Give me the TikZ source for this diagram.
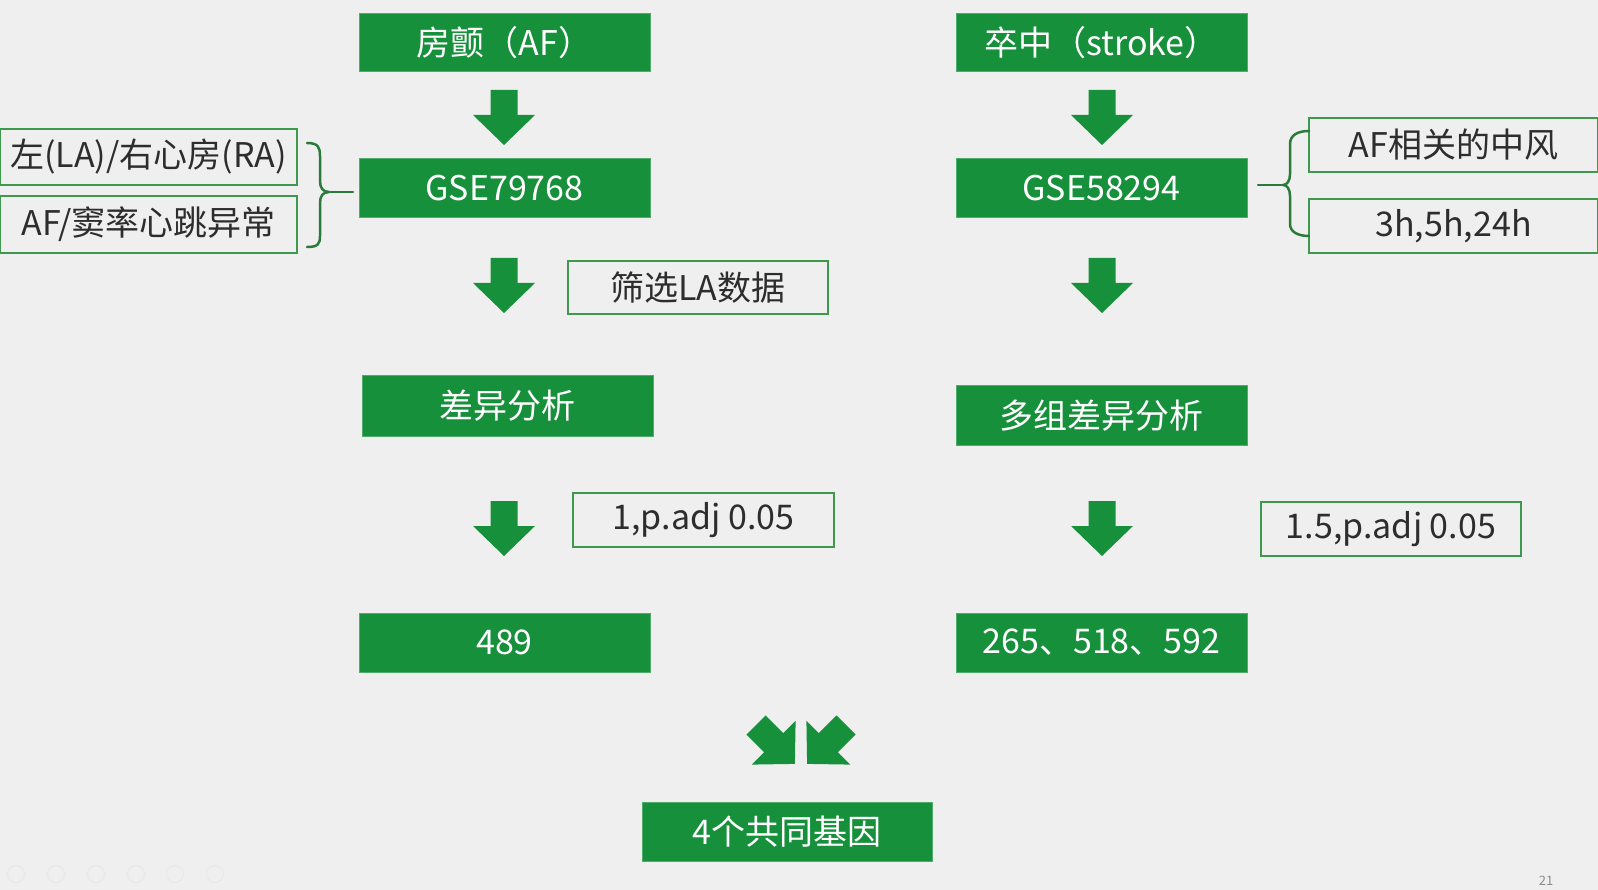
\documentclass[tikz,border=0pt]{standalone}
\usepackage{fontspec}
\setmainfont{Noto Sans CJK SC}
\usetikzlibrary{calc}
\definecolor{gfill}{RGB}{22,144,58}
\definecolor{bgc}{RGB}{239,239,239}
\definecolor{gline}{RGB}{62,152,78}
\definecolor{txt}{RGB}{45,45,45}
\definecolor{brc}{RGB}{44,122,58}
\newcommand{\blockarrowpath}{(-13.5,0) -- (13.5,0) -- (13.5,25) -- (31,25) -- (0,55) -- (-31,25) -- (-13.5,25) -- cycle}
\begin{document}
\begin{tikzpicture}[x=1pt,y=-1pt,
  gbox/.style={fill=gfill, draw=gfill!75!white, line width=1pt, text=white, minimum width=291pt, minimum height=58pt, inner sep=0pt, font=\fontsize{34}{38}\selectfont},
  obox/.style={draw=gline, line width=1.8pt, text=txt, minimum height=54pt, inner sep=0pt, font=\fontsize{34}{38}\selectfont},
  brace/.style={draw=brc, line width=2.5pt, line cap=round, line join=round},
  barrow/.style={fill=gfill},
  icon/.style={draw=black!9, line width=1pt, circle, minimum size=17pt, inner sep=0pt}
]
\useasboundingbox (0,0) rectangle (1598,890);
\fill[bgc] (0,0) rectangle (1598,890);

% green boxes
\node[gbox] (af) at (504.5,43) {房颤（AF）};
\node[gbox] (stroke) at (1101.5,43) {卒中（stroke）};
\node[gbox, minimum height=59pt] (gse1) at (504.5,188.5) {GSE79768};
\node[gbox, minimum height=59pt] (gse2) at (1101.5,188.5) {GSE58294};
\node[gbox, minimum height=60pt] (diff1) at (507.5,406) {差异分析};
\node[gbox, minimum height=59pt] (diff2) at (1101.5,415.5) {多组差异分析};
\node[gbox, minimum height=59pt] (n489) at (504.5,642.5) {489};
\node[gbox, minimum height=59pt] (n265) at (1101.5,642.5) {265、518、592};
\node[gbox, minimum width=290pt, minimum height=59pt] (common) at (787,831.5) {4个共同基因};

% outline boxes
\node[obox, minimum width=297pt, minimum height=56pt] (la) at (148.5,157) {左(LA)/右心房(RA)};
\node[obox, minimum width=297pt, minimum height=57pt] (afn) at (148.5,224.5) {AF/窦率心跳异常};
\node[obox, minimum width=260pt, minimum height=53pt] (filt) at (698,287.5) {筛选LA数据};
\node[obox, minimum width=261pt] (p1) at (703.5,520) {1,p.adj 0.05};
\node[obox, minimum width=289pt] (afs) at (1453.5,145) {AF相关的中风};
\node[obox, minimum width=289pt] (hrs) at (1453.5,226) {3h,5h,24h};
\node[obox, minimum width=260pt] (p2) at (1391,529) {1.5,p.adj 0.05};

% braces
\coordinate (lbt) at (353,192);
\coordinate (lbm) at (329,192);
\draw[brace] (307,143) .. controls (318,143) and (320,147) .. (320,156) -- (320,181) .. controls (320,188) and (323,192) .. (lbm)
  .. controls (323,192) and (320,196) .. (320,203) -- (320,236) .. controls (320,244) and (318,247) .. (307,247);
\draw[brace] (lbm) -- (lbt);

\coordinate (rbt) at (1258,185);
\coordinate (rbm) at (1283,185);
\draw[brace] (1309,131) .. controls (1298,131) and (1290,135) .. (1290,144) -- (1290,174) .. controls (1290,181) and (1287,185) .. (rbm)
  .. controls (1287,185) and (1290,189) .. (1290,196) -- (1290,224) .. controls (1290,232) and (1298,236) .. (1309,236);
\draw[brace] (rbm) -- (rbt);

% down arrows
\foreach \ax/\ay in {504/90,504/258,504/501,1102/90,1102/258,1102/501}{
  \begin{scope}[shift={(\ax,\ay)}]
    \fill[barrow] \blockarrowpath;
  \end{scope}
}

% merge arrows
\begin{scope}[shift={(756,725)}, rotate=45]
  \fill[barrow] \blockarrowpath;
\end{scope}
\begin{scope}[shift={(846,725)}, rotate=-45]
  \fill[barrow] \blockarrowpath;
\end{scope}

% toolbar icons and page number
\foreach \i/\xx in {1/16,2/56,3/96,4/136,5/175,6/215}{
  \node[icon] (ic\i) at (\xx,874) {};
}
\node[text=black!45, font=\fontsize{13}{14}\selectfont] (pg) at (1546,881) {21};
\end{tikzpicture}
\end{document}
